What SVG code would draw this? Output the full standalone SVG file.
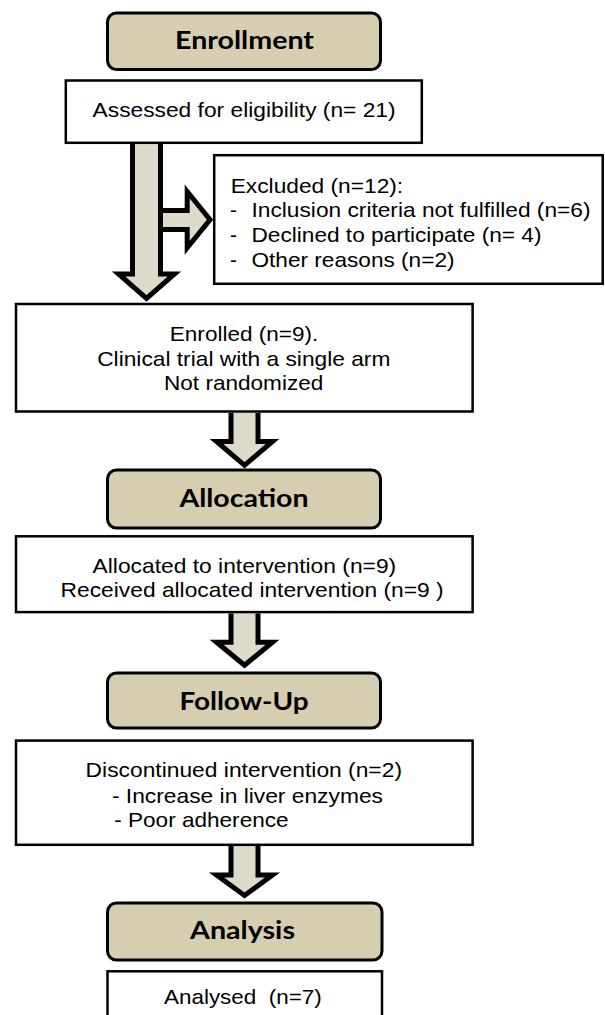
<svg xmlns="http://www.w3.org/2000/svg" width="605" height="1015" viewBox="0 0 605 1015">
<style>
.hdr{fill:#d5ceb0;stroke:#000;stroke-width:3}
.box{fill:#fff;stroke:#000;stroke-width:2.5}
.arr{fill:#dedbcb;stroke:#000;stroke-width:5;stroke-linejoin:miter;stroke-miterlimit:10}
.ht{font-family:Lato,"Open Sans","Liberation Sans",sans-serif;font-weight:bold;font-size:25px;fill:#000;text-anchor:start}
.t{font-family:"Liberation Sans",Arial,sans-serif;font-size:21px;fill:#000}
</style>
<rect x="0" y="0" width="605" height="1015" fill="#fff"/>
<g id="connectors">
<path class="arr" d="M160.5,210.5 H187.2 V191.5 L210,219.8 L187.2,247.8 V229.5 H160.5"/>
<path class="arr" d="M132.5,144 V274 H118.5 L146.5,298.5 L174.5,274 H160.5 V144"/>
<path class="arr" d="M231,413 V441.5 H216.5 L244.5,465.3 L272.5,441.5 H258 V413"/>
<path class="arr" d="M231,613.5 V642.2 H216.5 L244.5,665.2 L272.5,642.2 H258 V613.5"/>
<path class="arr" d="M231,846 V875 H216.5 L244.5,895.5 L272.5,875 H258 V846"/>
</g>
<g id="enrollment">
<rect class="hdr" x="107.5" y="13" width="273" height="56.5" rx="9"/>
<text class="ht" x="175" y="48.5" textLength="139" lengthAdjust="spacingAndGlyphs">Enrollment</text>
</g>
<g id="assessed">
<rect class="box" x="65.8" y="80.5" width="356" height="62.3"/>
<text class="t" x="92.6" y="117" textLength="303" lengthAdjust="spacingAndGlyphs">Assessed for eligibility (n= 21)</text>
</g>
<g id="excluded">
<rect class="box" x="214.2" y="155.2" width="388.5" height="128.6"/>
<text class="t" x="230.7" y="192.7" textLength="172.5" lengthAdjust="spacingAndGlyphs">Excluded (n=12):</text>
<text class="t" x="230" y="216.7">-</text>
<text class="t" x="251.5" y="216.7" textLength="339" lengthAdjust="spacingAndGlyphs">Inclusion criteria not fulfilled (n=6)</text>
<text class="t" x="230" y="241.5">-</text>
<text class="t" x="251.5" y="241.5" textLength="290" lengthAdjust="spacingAndGlyphs">Declined to participate (n= 4)</text>
<text class="t" x="230" y="266.5">-</text>
<text class="t" x="251.5" y="266.5" textLength="203" lengthAdjust="spacingAndGlyphs">Other reasons (n=2)</text>
</g>
<g id="enrolled">
<rect class="box" x="16" y="304" width="456.6" height="107.5"/>
<text class="t" x="169.8" y="340.7" textLength="148.5" lengthAdjust="spacingAndGlyphs">Enrolled (n=9).</text>
<text class="t" x="97.2" y="365.7" textLength="293.2" lengthAdjust="spacingAndGlyphs">Clinical trial with a single arm</text>
<text class="t" x="164" y="390" textLength="159.3" lengthAdjust="spacingAndGlyphs">Not randomized</text>
</g>
<g id="allocation">
<rect class="hdr" x="107.5" y="470" width="273" height="58" rx="9"/>
<text class="ht" x="179.4" y="506.7" textLength="129.2" lengthAdjust="spacingAndGlyphs">Allocation</text>
</g>
<g id="allocated">
<rect class="box" x="16" y="536.3" width="456.6" height="75.8"/>
<text class="t" x="92.6" y="573.3" textLength="303.6" lengthAdjust="spacingAndGlyphs">Allocated to intervention (n=9)</text>
<text class="t" x="60.6" y="596.7" textLength="383" lengthAdjust="spacingAndGlyphs">Received allocated intervention (n=9 )</text>
</g>
<g id="followup">
<rect class="hdr" x="107.5" y="673" width="273" height="55" rx="9"/>
<text class="ht" x="179.4" y="710" textLength="129.2" lengthAdjust="spacingAndGlyphs">Follow-Up</text>
</g>
<g id="discontinued">
<rect class="box" x="16" y="740.6" width="456.6" height="104.2"/>
<text class="t" x="85.6" y="776.7" textLength="316.4" lengthAdjust="spacingAndGlyphs">Discontinued intervention (n=2)</text>
<text class="t" x="111.9" y="802.7" textLength="271.1" lengthAdjust="spacingAndGlyphs">- Increase in liver enzymes</text>
<text class="t" x="114.2" y="826.7" textLength="174.4" lengthAdjust="spacingAndGlyphs">- Poor adherence</text>
</g>
<g id="analysis">
<rect class="hdr" x="107.5" y="903" width="274.5" height="57" rx="9"/>
<text class="ht" x="190" y="939.3" textLength="105" lengthAdjust="spacingAndGlyphs">Analysis</text>
</g>
<g id="analysed">
<rect class="box" x="107.5" y="971.3" width="274.5" height="60"/>
<text class="t" x="164" y="1003.5" textLength="157.7" lengthAdjust="spacingAndGlyphs" xml:space="preserve">Analysed  (n=7)</text>
</g>
</svg>
